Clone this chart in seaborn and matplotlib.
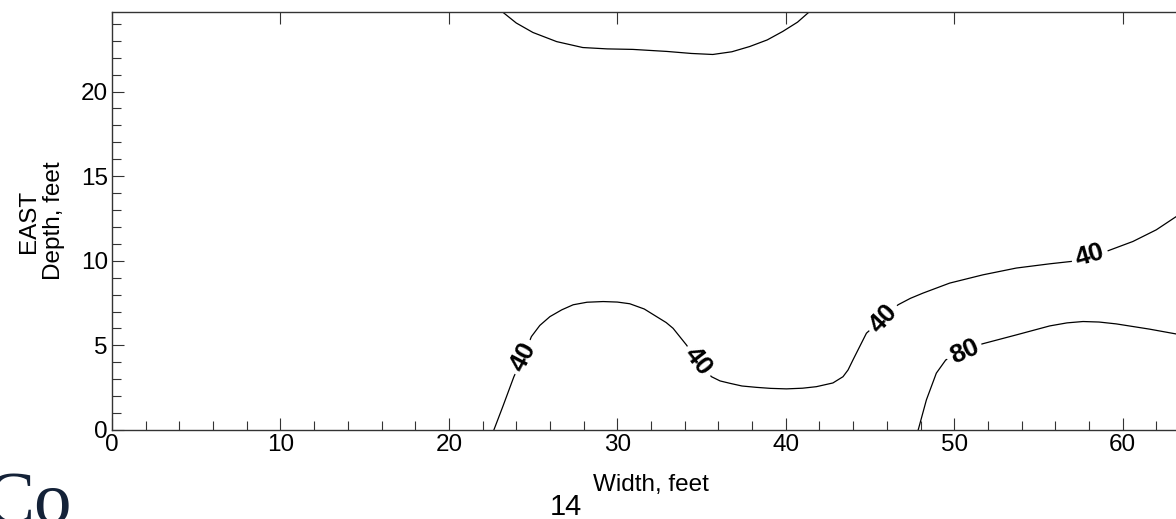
import matplotlib
matplotlib.use("Agg")
import matplotlib.pyplot as plt
import seaborn as sns
from matplotlib.ticker import MultipleLocator

# contour traces (width, depth in feet)
top_x = [22.9, 23.15, 24.0, 24.99, 26.4, 27.95, 29.4, 30.92, 32.94, 34.4, 35.67, 36.8, 37.86, 38.9, 39.82, 40.7, 41.42, 41.9]
top_y = [25.2, 24.73, 24.05, 23.49, 22.95, 22.60, 22.52, 22.49, 22.37, 22.25, 22.19, 22.35, 22.66, 23.05, 23.55, 24.1, 24.73, 25.2]

c40_x = [22.5, 22.67, 23.2, 23.86, 24.4, 24.9, 25.4, 26.0, 26.7, 27.38, 28.2, 29.16, 30.0, 30.74, 31.6, 32.33,
         32.9, 33.31, 34.1, 34.8, 35.59, 36.1, 36.68, 37.4, 38.26, 39.1, 40.04, 41.0, 41.82, 42.8, 43.40,
         43.7, 43.99, 44.4, 44.79, 45.78, 46.67, 47.4, 48.15, 49.73, 51.71, 53.69,
         55.67, 56.95, 58.04, 59.13, 60.61, 62.0, 63.15, 64.5]
c40_y = [-0.5, 0.0, 1.38, 3.15, 4.3, 5.52, 6.18, 6.70, 7.10, 7.40, 7.55, 7.59, 7.56, 7.46, 7.15, 6.70,
         6.35, 6.01, 5.03, 4.04, 3.15, 2.90, 2.76, 2.60, 2.52, 2.46, 2.43, 2.47, 2.56, 2.78, 3.15,
         3.55, 4.14, 4.95, 5.72, 6.61, 7.40, 7.78, 8.09, 8.68, 9.17, 9.57,
         9.82, 9.96, 10.30, 10.59, 11.14, 11.83, 12.59, 13.4]

c80_x = [47.7, 47.89, 48.35, 48.94, 49.5, 50.6, 51.67, 53.69, 55.67, 56.7, 57.65, 58.6, 59.62, 61.6, 63.15, 64.5]
c80_y = [-0.5, 0.1, 1.78, 3.36, 4.14, 4.63, 5.09, 5.62, 6.15, 6.33, 6.41, 6.38, 6.27, 5.96, 5.68, 5.4]

# contour labels: text, x, y, angle
lab_text = ["40", "40", "40", "40", "80"]
lab_x = [24.4, 34.8, 45.78, 58.04, 50.6]
lab_y = [4.3, 4.04, 6.61, 10.30, 4.63]
lab_rot = [62, -52, 47, 16, 24]

x_major = [0, 10, 20, 30, 40, 50, 60]
y_major = [0, 5, 10, 15, 20]


def main():
    sns.set_style("ticks")
    plt.rcParams["font.family"] = ["Liberation Sans", "DejaVu Sans"]
    plt.rcParams["text.color"] = "black"
    plt.rcParams["axes.labelcolor"] = "black"

    fig = plt.figure(figsize=(11.76, 5.19), dpi=100)
    ax = fig.add_axes([112 / 1176, 89 / 519, 1078 / 1176, 418 / 519])

    for xs, ys in [(top_x, top_y), (c40_x, c40_y), (c80_x, c80_y)]:
        sns.lineplot(x=xs, y=ys, sort=False, estimator=None, color="black",
                     linewidth=0.9, ax=ax)

    for t, x, y, r in zip(lab_text, lab_x, lab_y, lab_rot):
        ax.text(x, y, t, rotation=r, rotation_mode="anchor", ha="center", va="center",
                fontsize=19, fontweight="bold", color="black",
                bbox=dict(boxstyle="square,pad=0.15", fc="white", ec="none"))

    ax.set_xlim(0, 64)
    ax.set_ylim(0, 24.7)
    ax.set_xticks(x_major)
    ax.set_yticks(y_major)
    ax.xaxis.set_minor_locator(MultipleLocator(2))
    ax.yaxis.set_minor_locator(MultipleLocator(1))
    ax.tick_params(which="major", direction="in", length=8.6, width=0.8, labelsize=17.5,
                   labelcolor="black", top=True, bottom=True, left=True, right=False,
                   pad=3, color="#333333")
    ax.tick_params(which="minor", direction="in", length=6.5, width=0.8,
                   top=False, bottom=True, left=True, right=False, color="#333333")
    for s in ax.spines.values():
        s.set_color("#333333")
        s.set_linewidth(1.0)

    ax.set_xlabel("Width, feet", fontsize=17.5)
    ax.xaxis.set_label_coords(0.5, -0.105)
    ax.set_ylabel("EAST\nDepth, feet", fontsize=17.5, linespacing=1.2)
    ax.yaxis.set_label_coords(-0.0436, 0.5)

    fig.text(550 / 1176, 4 / 519, "14", fontsize=21, va="baseline", ha="left")
    fig.text(-15 / 1176, -4 / 519, "Co", fontsize=54, family="Liberation Serif",
             color="#142238", va="baseline", ha="left")

    fig.savefig("out.png", dpi=100)


if __name__ == "__main__":
    main()
